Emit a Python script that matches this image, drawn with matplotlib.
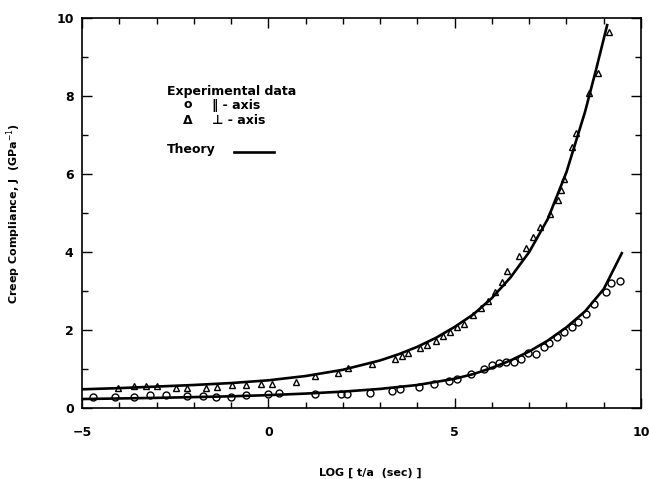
import matplotlib
matplotlib.use("Agg")
import matplotlib.pyplot as plt
from matplotlib.ticker import MultipleLocator, FixedLocator

# ---- Données expérimentales (axe parallèle : cercles) ----
par_x = [-4.70, -4.11, -3.60, -3.17, -2.74, -2.18, -1.75, -1.40, -0.99, -0.59,
         0.00, 0.30, 1.24, 1.94, 2.12, 2.72, 3.33, 3.52, 4.03, 4.44,
         4.84, 5.05, 5.43, 5.78, 6.00, 6.18, 6.37, 6.59, 6.77, 6.96,
         7.18, 7.39, 7.53, 7.74, 7.93, 8.15, 8.31, 8.52, 8.74, 9.06,
         9.19, 9.44]
par_y = [0.28, 0.28, 0.28, 0.33, 0.33, 0.31, 0.31, 0.28, 0.28, 0.33,
         0.36, 0.38, 0.36, 0.36, 0.36, 0.38, 0.44, 0.49, 0.54, 0.62,
         0.69, 0.74, 0.88, 1.00, 1.10, 1.15, 1.18, 1.18, 1.26, 1.41,
         1.38, 1.56, 1.67, 1.82, 1.95, 2.08, 2.21, 2.41, 2.67, 2.97,
         3.21, 3.26]

# ---- Données expérimentales (axe perpendiculaire : triangles) ----
perp_x = [-4.03, -3.60, -3.28, -2.98, -2.47, -2.18, -1.67, -1.37, -0.97, -0.59,
          -0.19, 0.11, 0.73, 1.24, 1.86, 2.15, 2.77, 3.39, 3.58, 3.76,
          4.06, 4.27, 4.49, 4.70, 4.87, 5.05, 5.24, 5.48, 5.70, 5.89,
          6.08, 6.26, 6.40, 6.72, 6.91, 7.10, 7.28, 7.55, 7.77, 7.85,
          7.93, 8.15, 8.25, 8.60, 8.84, 9.14]
perp_y = [0.51, 0.56, 0.56, 0.56, 0.51, 0.51, 0.51, 0.54, 0.59, 0.59,
          0.62, 0.62, 0.67, 0.82, 0.90, 1.03, 1.13, 1.26, 1.33, 1.41,
          1.54, 1.61, 1.72, 1.85, 1.95, 2.08, 2.15, 2.38, 2.56, 2.74,
          2.97, 3.23, 3.51, 3.90, 4.10, 4.38, 4.64, 4.97, 5.33, 5.59,
          5.87, 6.69, 7.05, 8.08, 8.60, 9.64]

# ---- Courbes théoriques ----
th_par_x = [-5, -3, -1, 0, 1, 2, 3, 4, 5, 5.5, 6, 6.5, 7, 7.5, 8, 8.5, 9, 9.5]
th_par_y = [0.23, 0.26, 0.30, 0.33, 0.37, 0.42, 0.49, 0.59, 0.75, 0.87,
            1.03, 1.22, 1.45, 1.73, 2.07, 2.48, 3.05, 4.00]
th_perp_x = [-5, -4, -3, -2, -1, 0, 1, 2, 3, 3.5, 4, 4.5, 5, 5.5, 6, 6.5,
             7, 7.5, 8, 8.5, 8.8, 9.1]
th_perp_y = [0.48, 0.51, 0.55, 0.59, 0.64, 0.71, 0.82, 0.98, 1.22, 1.38,
             1.57, 1.80, 2.08, 2.40, 2.82, 3.35, 4.00, 4.85, 6.05, 7.60,
             8.70, 9.85]

fig = plt.figure(figsize=(6.49, 4.79), dpi=100)
ax = fig.add_axes([0.1263, 0.1482, 0.8614, 0.8142])

ax.plot(th_par_x, th_par_y, color="black", lw=1.9, solid_capstyle="butt")
ax.plot(th_perp_x, th_perp_y, color="black", lw=1.9, solid_capstyle="butt")
ax.plot(par_x, par_y, "o", ms=5, mfc="none", mec="black", mew=1.0)
ax.plot(perp_x, perp_y, "^", ms=5, mfc="none", mec="black", mew=1.0)

ax.set_xlim(-5, 10)
ax.set_ylim(0, 10)
ax.xaxis.set_major_locator(FixedLocator([-5, 0, 5, 10]))
ax.xaxis.set_minor_locator(MultipleLocator(1))
ax.yaxis.set_major_locator(MultipleLocator(2))
ax.yaxis.set_minor_locator(MultipleLocator(1))
ax.tick_params(which="both", direction="in", top=True, right=True, width=1.0)
ax.tick_params(which="major", length=7, labelsize=9)
ax.tick_params(axis="x", which="major", pad=13)
ax.tick_params(axis="y", which="major", pad=6)
ax.tick_params(which="minor", length=4)
for lab in ax.get_xticklabels() + ax.get_yticklabels():
    lab.set_fontweight("bold")
for sp in ax.spines.values():
    sp.set_linewidth(1.2)

ax.set_xlabel("LOG [ t/a  (sec) ]", fontsize=8, fontweight="bold")
ax.set_ylabel("Creep Compliance, J  (GPa$^{-1}$)", fontsize=8, fontweight="bold")
ax.xaxis.set_label_coords(0.515, -0.152)
ax.yaxis.set_label_coords(-0.105, 0.5)

# ---- Légende ----
fig.text(167 / 649, 1 - 92 / 479, "Experimental data", fontsize=9,
         fontweight="bold", va="center")
fig.text(184 / 649, 1 - 105 / 479, "o", fontsize=9, fontweight="bold", va="center")
fig.text(212 / 649, 1 - 105 / 479, "\u2016 - axis", fontsize=9, fontweight="bold",
         va="center")
fig.text(183 / 649, 1 - 120 / 479, "\u0394", fontsize=9, fontweight="bold",
         va="center")
fig.text(212 / 649, 1 - 120 / 479, "\u22a5 - axis", fontsize=9, fontweight="bold",
         va="center")
fig.text(167 / 649, 1 - 149 / 479, "Theory", fontsize=9, fontweight="bold",
         va="center")
fig.add_artist(plt.Line2D([234 / 649, 274 / 649], [1 - 152 / 479, 1 - 152 / 479],
                          color="black", lw=1.9))

fig.savefig("out.png", dpi=100)
